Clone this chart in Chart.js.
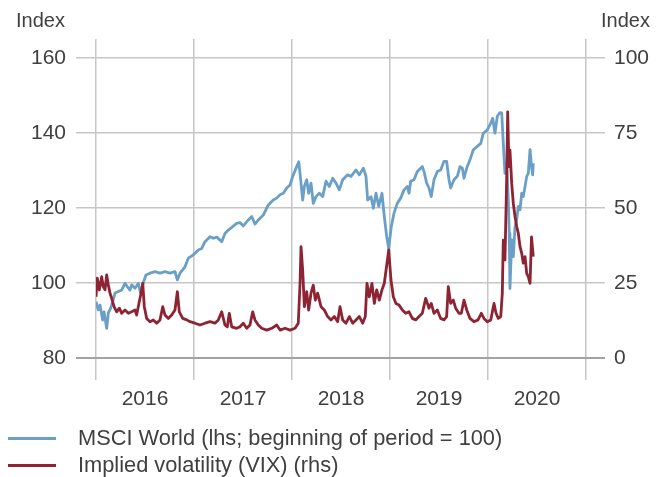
<!DOCTYPE html>
<html>
<head>
<meta charset="utf-8">
<script src="https://cdn.jsdelivr.net/npm/chart.js"></script>
<style>
  body { margin: 0; background: #fff; }
  #wrap { position: relative; width: 656px; height: 477px; overflow: hidden;
          font-family: "Liberation Sans", Arial, sans-serif; color: #404040; }
  #chart { position: absolute; left: 0; top: 0; }
  .unit { position: absolute; top: 8px; font-size: 20px; line-height: 24px; }
  .leg { position: absolute; left: 78px; font-size: 21.8px; line-height: 24px; white-space: nowrap; }
  .sw { position: absolute; left: 8px; width: 48px; height: 3px; }
</style>
</head>
<body>
<div id="wrap">
  <canvas id="chart" width="656" height="477"></canvas>
  <div class="unit" style="left:16px">Index</div>
  <div class="unit" style="right:6px">Index</div>
  <div class="sw" style="top:437px;background:#6a9fc7"></div>
  <div class="leg" style="top:426px">MSCI World (lhs; beginning of period = 100)</div>
  <div class="sw" style="top:464px;background:#8e2433"></div>
  <div class="leg" style="top:453px">Implied volatility (VIX) (rhs)</div>
</div>
<script>
// x values are decimal years
const msciDates = [2016.000, 2016.023, 2016.041, 2016.068, 2016.082, 2016.109, 2016.126, 2016.150, 2016.170, 2016.194,
  2016.228, 2016.262, 2016.296, 2016.319, 2016.347, 2016.364, 2016.398, 2016.432, 2016.456, 2016.483,
  2016.510, 2016.551, 2016.602, 2016.653, 2016.704, 2016.755, 2016.806, 2016.830, 2016.857, 2016.908,
  2016.942, 2016.993, 2017.010, 2017.044, 2017.079, 2017.112, 2017.163, 2017.197, 2017.232, 2017.283,
  2017.316, 2017.350, 2017.385, 2017.436, 2017.469, 2017.503, 2017.554, 2017.589, 2017.622, 2017.656,
  2017.707, 2017.758, 2017.809, 2017.844, 2017.878, 2017.911, 2017.946, 2017.980, 2018.007, 2018.048,
  2018.069, 2018.092, 2018.109, 2018.126, 2018.150, 2018.170, 2018.194, 2018.217, 2018.245, 2018.279,
  2018.313, 2018.347, 2018.381, 2018.415, 2018.449, 2018.483, 2018.517, 2018.568, 2018.602, 2018.653,
  2018.687, 2018.728, 2018.755, 2018.772, 2018.806, 2018.830, 2018.857, 2018.885, 2018.918, 2018.942,
  2018.966, 2018.987, 2019.013, 2019.041, 2019.074, 2019.109, 2019.143, 2019.177, 2019.194, 2019.211,
  2019.245, 2019.279, 2019.330, 2019.347, 2019.374, 2019.398, 2019.421, 2019.449, 2019.483, 2019.517,
  2019.551, 2019.578, 2019.602, 2019.619, 2019.653, 2019.687, 2019.714, 2019.738, 2019.755, 2019.783,
  2019.816, 2019.850, 2019.891, 2019.926, 2019.952, 2019.993, 2020.028, 2020.048, 2020.071, 2020.095,
  2020.122, 2020.140, 2020.156, 2020.173, 2020.191, 2020.207, 2020.217, 2020.224, 2020.242, 2020.258,
  2020.276, 2020.293, 2020.309, 2020.327, 2020.344, 2020.360, 2020.378, 2020.395, 2020.411, 2020.429,
  2020.444, 2020.456, 2020.462];
const msciValues = [95.0, 92.8, 94.1, 90.1, 92.3, 87.9, 92.0, 93.3, 95.0, 97.3,
  97.7, 98.1, 99.9, 99.0, 98.1, 99.5, 98.6, 99.9, 97.2, 100.1,
  102.1, 102.6, 103.0, 102.6, 103.0, 102.6, 103.0, 100.8, 102.6, 104.3,
  106.6, 107.5, 107.9, 108.8, 109.2, 111.0, 112.3, 111.9, 112.2, 111.0,
  113.2, 114.1, 114.8, 115.9, 116.1, 115.2, 116.8, 117.7, 115.7, 116.8,
  118.1, 120.8, 122.1, 122.6, 123.5, 123.9, 125.3, 126.1, 128.4, 131.0,
  132.3, 126.6, 122.1, 125.7, 127.5, 123.9, 126.6, 121.2, 123.0, 123.9,
  123.0, 127.1, 125.7, 127.9, 126.6, 124.8, 127.5, 128.8, 128.4, 130.1,
  128.8, 130.6, 128.4, 122.1, 123.0, 119.9, 123.9, 120.4, 123.9, 117.7,
  112.4, 109.2, 115.0, 118.6, 121.2, 122.6, 124.8, 125.7, 123.9, 127.1,
  127.5, 129.7, 131.0, 129.7, 126.6, 125.3, 123.0, 127.5, 129.7, 130.1,
  132.4, 132.4, 127.5, 125.3, 127.5, 128.4, 131.0, 130.6, 127.9, 130.6,
  132.8, 135.5, 136.4, 137.2, 139.9, 140.8, 142.6, 143.9, 139.9, 144.4,
  145.4, 145.3, 137.2, 129.2, 131.9, 122.1, 113.2, 98.5, 111.5, 107.0,
  115.0, 116.8, 120.4, 119.5, 123.9, 123.0, 125.7, 128.4, 129.2, 135.5,
  131.0, 128.8, 131.9];

const vixDates = [2016.000, 2016.013, 2016.034, 2016.058, 2016.074, 2016.092, 2016.109, 2016.126, 2016.143, 2016.160,
  2016.184, 2016.211, 2016.238, 2016.262, 2016.296, 2016.330, 2016.364, 2016.398, 2016.415, 2016.442,
  2016.456, 2016.477, 2016.493, 2016.517, 2016.551, 2016.585, 2016.619, 2016.653, 2016.681, 2016.704,
  2016.738, 2016.772, 2016.806, 2016.830, 2016.850, 2016.885, 2016.926, 2016.959, 2017.010, 2017.061,
  2017.112, 2017.163, 2017.214, 2017.248, 2017.283, 2017.316, 2017.340, 2017.360, 2017.385, 2017.436,
  2017.469, 2017.503, 2017.538, 2017.571, 2017.599, 2017.622, 2017.656, 2017.691, 2017.742, 2017.793,
  2017.844, 2017.878, 2017.929, 2017.980, 2018.031, 2018.064, 2018.082, 2018.092, 2018.109, 2018.126,
  2018.150, 2018.170, 2018.194, 2018.217, 2018.238, 2018.262, 2018.296, 2018.330, 2018.364, 2018.398,
  2018.432, 2018.466, 2018.490, 2018.517, 2018.551, 2018.585, 2018.619, 2018.653, 2018.687, 2018.721,
  2018.748, 2018.765, 2018.789, 2018.816, 2018.840, 2018.864, 2018.891, 2018.918, 2018.942, 2018.969,
  2018.987, 2019.010, 2019.034, 2019.061, 2019.092, 2019.126, 2019.160, 2019.194, 2019.228, 2019.262,
  2019.296, 2019.330, 2019.364, 2019.398, 2019.421, 2019.449, 2019.483, 2019.517, 2019.551, 2019.578,
  2019.595, 2019.619, 2019.646, 2019.670, 2019.704, 2019.728, 2019.755, 2019.783, 2019.816, 2019.857,
  2019.898, 2019.932, 2019.959, 2019.993, 2020.028, 2020.061, 2020.082, 2020.105, 2020.130, 2020.146,
  2020.156, 2020.173, 2020.191, 2020.201, 2020.214, 2020.224, 2020.242, 2020.258, 2020.276, 2020.293,
  2020.309, 2020.327, 2020.344, 2020.360, 2020.378, 2020.395, 2020.411, 2020.429, 2020.444, 2020.462];
const vixValues = [20.4, 26.6, 22.7, 27.1, 23.8, 22.7, 27.7, 24.3, 21.6, 19.9,
  17.1, 15.4, 16.6, 14.9, 16.0, 14.9, 15.4, 16.0, 14.3, 18.8,
  21.0, 24.9, 17.1, 13.2, 12.1, 12.7, 11.6, 12.7, 17.1, 14.3,
  13.2, 14.3, 16.0, 22.1, 15.4, 13.2, 12.7, 12.1, 11.6, 11.0,
  11.6, 12.1, 11.6, 12.7, 15.4, 11.0, 10.4, 14.9, 10.4, 9.9,
  10.4, 11.6, 9.9, 11.0, 15.4, 12.7, 11.0, 9.9, 9.3, 9.9,
  11.0, 9.3, 9.9, 9.3, 9.9, 11.6, 24.9, 37.1, 29.3, 17.1,
  22.1, 16.0, 21.6, 24.3, 19.3, 21.6, 17.1, 16.0, 13.8, 12.7,
  13.8, 12.1, 17.1, 12.7, 11.6, 13.8, 11.6, 12.7, 13.8, 11.6,
  13.8, 24.9, 20.4, 24.9, 18.2, 22.7, 19.3, 22.7, 24.9, 31.6,
  36.0, 26.0, 20.4, 18.2, 17.7, 16.0, 14.9, 15.4, 13.2, 12.7,
  13.8, 14.9, 19.9, 16.6, 18.2, 14.9, 16.0, 13.2, 12.7, 13.8,
  23.8, 18.2, 19.3, 16.6, 14.9, 14.9, 19.3, 16.0, 13.2, 12.1,
  12.7, 14.9, 13.2, 12.1, 12.7, 18.2, 14.9, 13.2, 13.8, 21.6,
  39.3, 32.7, 60.4, 82.0, 63.8, 69.3, 58.2, 51.6, 47.1, 43.8,
  41.6, 37.1, 34.9, 31.6, 33.8, 28.2, 27.1, 24.9, 40.4, 33.8];

const yearTicks = [2016, 2017, 2018, 2019, 2020, 2021];
const leftTicks = [80, 100, 120, 140, 160];
const rightTicks = [0, 25, 50, 75, 100];

const gridGrey = "#c6c6c6";
const axisGrey = "#a3a3a3";
const tickFont = { family: "Liberation Sans", size: 21 };

function pts(xs, ys) {
  return xs.map((x, i) => ({ x: x, y: ys[i] }));
}

new Chart(document.getElementById("chart"), {
  type: "line",
  data: {
    datasets: [
      {
        label: "Implied volatility (VIX) (rhs)",
        data: pts(vixDates, vixValues),
        yAxisID: "yR",
        borderColor: "#8e2433",
        borderWidth: 2.8,
        pointRadius: 0,
        borderJoinStyle: "round",
        order: 0
      },
      {
        label: "MSCI World (lhs; beginning of period = 100)",
        data: pts(msciDates, msciValues),
        yAxisID: "yL",
        borderColor: "#6a9fc7",
        borderWidth: 2.8,
        pointRadius: 0,
        borderJoinStyle: "round",
        order: 1
      }
    ]
  },
  options: {
    responsive: false,
    animation: false,
    devicePixelRatio: 1,
    layout: { padding: { top: 39, left: 0, right: 0, bottom: 0 } },
    plugins: { legend: { display: false }, tooltip: { enabled: false } },
    scales: {
      x: {
        type: "linear",
        min: yearTicks[0],
        max: yearTicks[yearTicks.length - 1],
        afterFit: s => { s.height = 119; },
        afterBuildTicks: s => {
          const t = [];
          yearTicks.forEach((y, i) => {
            t.push({ value: y });
            if (i < yearTicks.length - 1) t.push({ value: y + 0.5 });
          });
          s.ticks = t;
        },
        ticks: {
          autoSkip: false, maxRotation: 0, padding: 7,
          color: "#404040", font: tickFont,
          callback: v => Number.isInteger(v) ? "" : String(Math.floor(v))
        },
        grid: {
          color: c => Number.isInteger(c.tick.value) ? gridGrey : "rgba(0,0,0,0)",
          tickColor: c => Number.isInteger(c.tick.value) ? gridGrey : "rgba(0,0,0,0)",
          lineWidth: 1.5, tickLength: 22
        },
        border: { display: false }
      },
      yL: {
        position: "left",
        min: 80, max: 165,
        afterFit: s => { s.width = 96; },
        afterBuildTicks: s => { s.ticks = leftTicks.map(v => ({ value: v })); },
        ticks: { padding: 10, color: "#404040", font: tickFont },
        grid: {
          color: c => c.tick.value === 80 ? axisGrey : gridGrey,
          tickColor: c => c.tick.value === 80 ? axisGrey : gridGrey,
          lineWidth: c => c.tick.value === 80 ? 2 : 1.5,
          tickLength: 20
        },
        border: { display: false }
      },
      yR: {
        position: "right",
        min: 0, max: 106.33,
        afterFit: s => { s.width = 70; },
        afterBuildTicks: s => { s.ticks = rightTicks.map(v => ({ value: v })); },
        ticks: { padding: 9, color: "#404040", font: tickFont },
        grid: {
          drawOnChartArea: false,
          tickColor: c => c.tick.value === 0 ? axisGrey : gridGrey,
          lineWidth: c => c.tick.value === 0 ? 2 : 1.5,
          tickLength: 19
        },
        border: { display: false }
      }
    }
  }
});
</script>
</body>
</html>
